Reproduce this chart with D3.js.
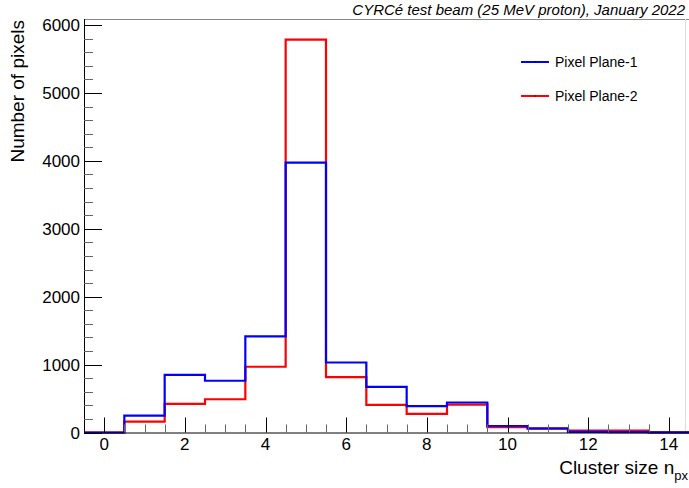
<!DOCTYPE html>
<html>
<head>
<meta charset="utf-8">
<script src="https://cdn.jsdelivr.net/npm/d3@7"></script>
<style>
  body { margin: 0; background: #fff; }
  text { font-family: "Liberation Sans", Arial, sans-serif; fill: #000; }
</style>
</head>
<body>
<div id="chart"></div>
<script>
// bin centres (cluster size), one bin per integer
var binCenters = [0, 1, 2, 3, 4, 5, 6, 7, 8, 9, 10, 11, 12, 13, 14];
// counts
var plane1 = [0, 250, 850, 762, 1415, 3976, 1031, 673, 388, 442, 96, 62, 8, 6, 3];
var plane2 = [0, 160, 423, 490, 968, 5785, 815, 408, 275, 412, 79, 55, 28, 28, 2];
var seriesNames = ["Pixel Plane-1", "Pixel Plane-2"];
var seriesColors = ["#0000ff", "#ff0000"];
var xTicks = [0, 2, 4, 6, 8, 10, 12, 14];
var yTicks = [0, 1000, 2000, 3000, 4000, 5000, 6000];

var W = 689, H = 488;
var margin = {top: 19, right: 0, bottom: 55.5, left: 84};
var width = W - margin.left - margin.right,
    height = H - margin.top - margin.bottom;

var svg = d3.select("#chart")
  .append("svg")
    .attr("width", W)
    .attr("height", H);

var g = svg.append("g")
    .attr("transform", "translate(" + margin.left + "," + margin.top + ")");

var x = d3.scaleLinear()
  .domain([-0.5, 14.5])
  .range([0, width]);

var y = d3.scaleLinear()
  .domain([0, 6090])
  .range([height, 0]);

// frame top and right (grey)
g.append("line")
  .attr("x1", 0).attr("x2", width)
  .attr("y1", 0.5).attr("y2", 0.5)
  .attr("stroke", "#888").attr("stroke-width", 1);
g.append("line")
  .attr("x1", width - 3.5).attr("x2", width - 3.5)
  .attr("y1", 0).attr("y2", height)
  .attr("stroke", "#ddd").attr("stroke-width", 1);

// histogram step path
function stepPath(vals) {
  var p = d3.path();
  vals.forEach(function(v, i) {
    var x0 = x(binCenters[i] - 0.5), x1 = x(binCenters[i] + 0.5);
    if (i == 0) p.moveTo(x0, y(v));
    else p.lineTo(x0, y(v));
    p.lineTo(x1, y(v));
  });
  return p.toString();
}

// red first so blue sits on top
[plane2, plane1].forEach(function(vals, k) {
  g.append("path")
    .attr("d", stepPath(vals))
    .attr("fill", "none")
    .attr("stroke", seriesColors[1 - k])
    .attr("stroke-width", 2.2);
});

// Y axis
var yAxis = g.append("g");
yAxis.append("line")
  .attr("x1", 0.5).attr("x2", 0.5)
  .attr("y1", 0).attr("y2", height)
  .attr("stroke", "#000");
d3.range(0, 6001, 200).forEach(function(v) {
  var major = v % 1000 == 0;
  yAxis.append("line")
    .attr("x1", 0).attr("x2", major ? 18 : 9)
    .attr("y1", Math.round(y(v)) + 0.5).attr("y2", Math.round(y(v)) + 0.5)
    .attr("stroke", major ? "#000" : "#666");
});
yAxis.selectAll("text.yt")
  .data(yTicks)
  .enter().append("text")
    .attr("x", -4)
    .attr("y", function(d) { return y(d) + 6; })
    .attr("text-anchor", "end")
    .style("font-size", "17px")
    .text(function(d) { return d; });

// X axis
var xAxis = g.append("g").attr("transform", "translate(0," + height + ")");
xAxis.append("line")
  .attr("x1", 0).attr("x2", width)
  .attr("y1", 0.5).attr("y2", 0.5)
  .attr("stroke", "#000");
d3.range(0, 14.01, 0.5).forEach(function(v) {
  var major = v % 2 == 0;
  xAxis.append("line")
    .attr("x1", Math.round(x(v)) + 0.5).attr("x2", Math.round(x(v)) + 0.5)
    .attr("y1", 0).attr("y2", major ? -15 : -8)
    .attr("stroke", major ? "#000" : "#666");
});
xAxis.selectAll("text.xt")
  .data(xTicks)
  .enter().append("text")
    .attr("x", function(d) { return x(d); })
    .attr("y", 17.5)
    .attr("text-anchor", "middle")
    .style("font-size", "17px")
    .text(function(d) { return d; });

// axis titles
var xt = svg.append("text")
  .attr("x", 688)
  .attr("y", 474)
  .attr("text-anchor", "end")
  .style("font-size", "19px");
xt.append("tspan").text("Cluster size n");
xt.append("tspan").attr("dy", 6).style("font-size", "13px").text("px");

svg.append("text")
  .attr("transform", "translate(24,20) rotate(-90)")
  .attr("text-anchor", "end")
  .style("font-size", "19px")
  .text("Number of pixels");

// title
svg.append("text")
  .attr("x", 685)
  .attr("y", 15)
  .attr("text-anchor", "end")
  .style("font-size", "15px")
  .style("font-style", "italic")
  .text("CYRCé test beam (25 MeV proton), January 2022");

// legend
var legend = svg.append("g");
seriesNames.forEach(function(name, i) {
  var ly = 62 + i * 34;
  legend.append("line")
    .attr("x1", 521).attr("x2", 549)
    .attr("y1", ly).attr("y2", ly)
    .attr("stroke", seriesColors[i]).attr("stroke-width", 2);
  legend.append("line")
    .attr("x1", 535).attr("x2", 535)
    .attr("y1", ly - 1).attr("y2", ly + 1)
    .attr("stroke", "#000").attr("stroke-width", 0.6);
  legend.append("text")
    .attr("x", 555)
    .attr("y", ly + 5)
    .style("font-size", "14px")
    .text(name);
});
</script>
</body>
</html>
